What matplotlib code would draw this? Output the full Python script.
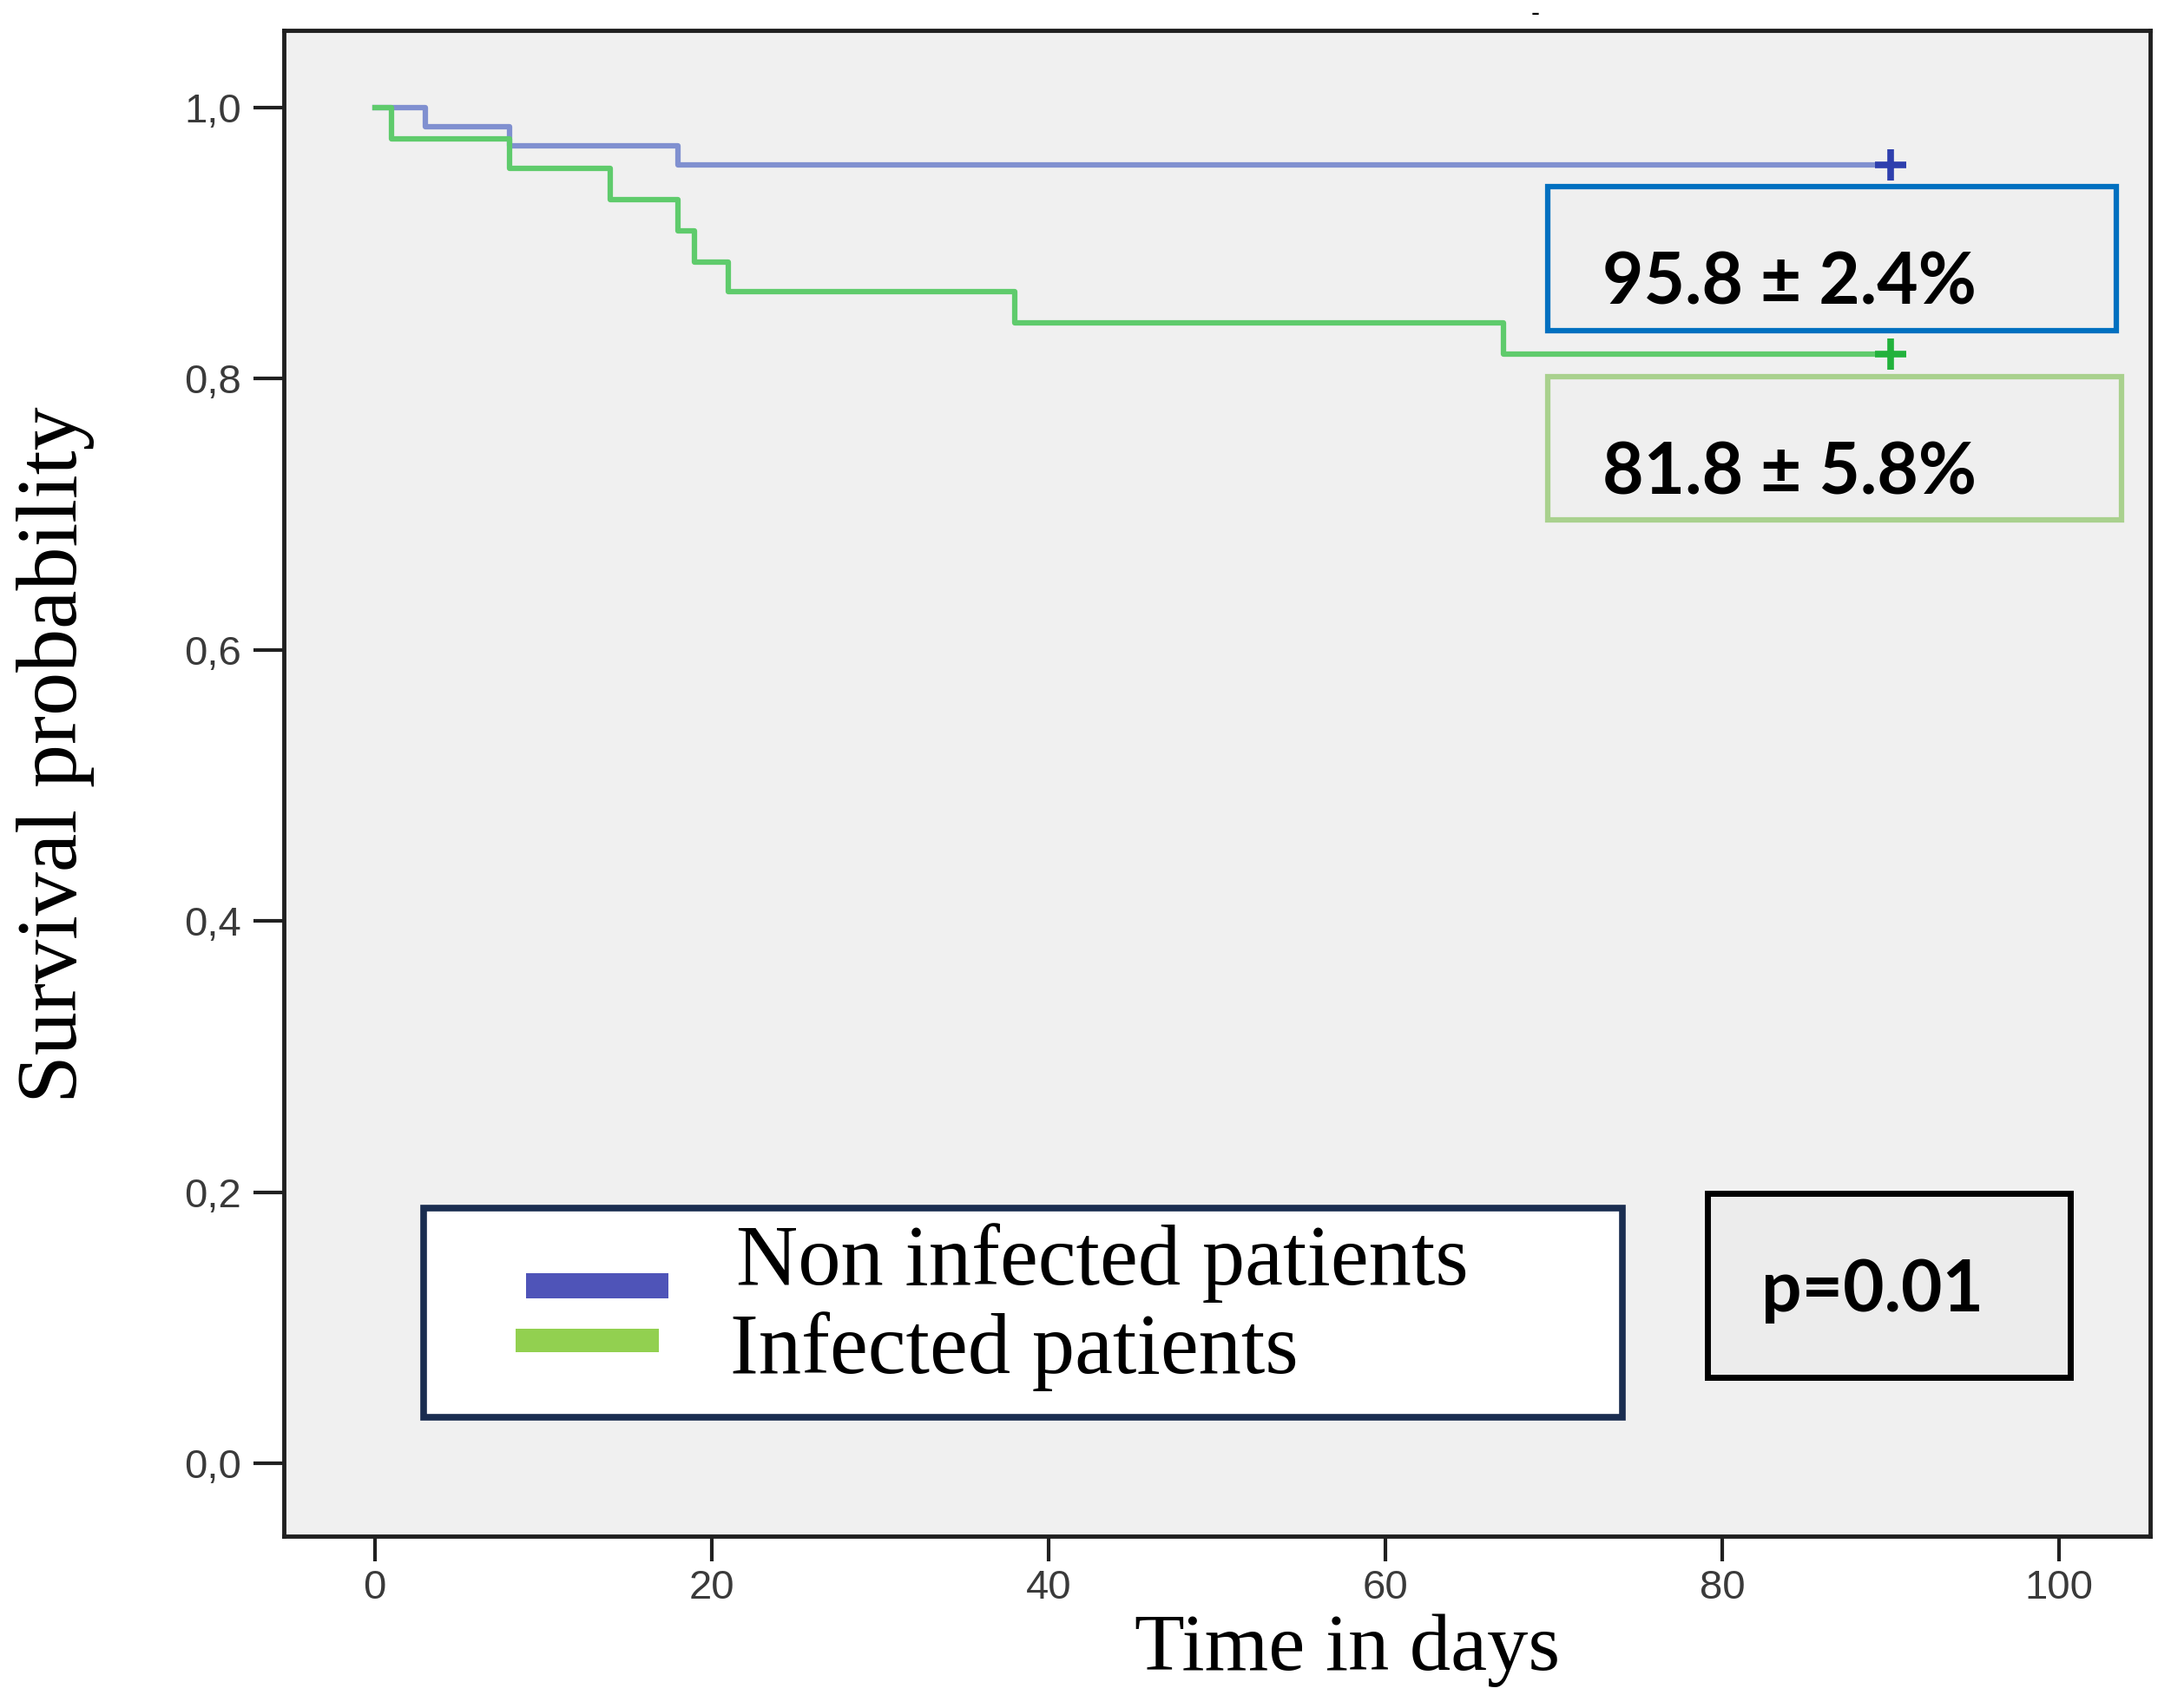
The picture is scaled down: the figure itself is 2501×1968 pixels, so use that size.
import matplotlib
matplotlib.use("Agg")
import matplotlib.pyplot as plt
from matplotlib.patches import Rectangle

# Kaplan-Meier steps
tiempo_no_inf = [0, 1, 3, 8, 18, 90]
surv_no_inf = [1.0, 1.0, 0.986, 0.972, 0.958, 0.958]
tiempo_inf = [0, 1, 8, 14, 18, 19, 21, 38, 67, 90]
surv_inf = [1.0, 0.977, 0.955, 0.932, 0.909, 0.886, 0.864, 0.841, 0.818, 0.818]
censura_t = [90, 90]
censura_s = [0.958, 0.818]

xticks = [0, 20, 40, 60, 80, 100]
yticks = [0.0, 0.2, 0.4, 0.6, 0.8, 1.0]
ytick_labels = ["0,0", "0,2", "0,4", "0,6", "0,8", "1,0"]

grupos = ["Non infected patients", "Infected patients"]
resumen = ["95.8 \u00b1 2.4%", "81.8 \u00b1 5.8%"]
p_valor = "p=0.01"

fig = plt.figure(figsize=(25.01, 19.68), dpi=100)
ax = fig.add_axes([0.1307, 0.1005, 0.8597, 0.8817])
ax.set_facecolor("#f0f0f0")

ax.step(tiempo_no_inf, surv_no_inf, where="post", color="#8090d0", lw=4.5, zorder=3)
ax.step(tiempo_inf, surv_inf, where="post", color="#5fcb6c", lw=4.5, zorder=3)
ax.plot(censura_t[0], censura_s[0], "+", color="#2e3fae", ms=26, mew=5.5, zorder=4)
ax.plot(censura_t[1], censura_s[1], "+", color="#22b23c", ms=26, mew=5.5, zorder=4)

ax.set_xlim(-5.4, 105.4)
ax.set_ylim(-0.054, 1.057)
ax.set_xticks(xticks)
ax.set_xticklabels([str(t) for t in xticks])
ax.set_yticks(yticks)
ax.set_yticklabels(ytick_labels)
ax.tick_params(axis="both", direction="out", width=3, color="#202020",
               labelsize=34, labelcolor="#3a3a3a")
ax.tick_params(axis="x", length=21, pad=6)
ax.tick_params(axis="y", length=25, pad=10)
for lbl in ax.get_xticklabels() + ax.get_yticklabels():
    lbl.set_family(["Liberation Sans", "DejaVu Sans"])
for lado in ax.spines.values():
    lado.set_linewidth(3.5)
    lado.set_color("#202020")

serif = ["Liberation Serif", "DejaVu Serif"]
fig.text(0.6205, 0.0225, "Time in days", family=serif, fontsize=68,
         ha="center", va="baseline")
fig.text(0.0255, 0.558, "Survival probability", family=serif, fontsize=72,
         ha="center", va="center", rotation=90)

negrita = dict(family=["Lato", "DejaVu Sans"], fontweight="bold", fontsize=59, va="baseline")

# cajas de resumen
ax.add_patch(Rectangle((69.65, 0.8355), 33.75, 0.1063, fc="#efefef", ec="#0070c0", lw=4.5, zorder=5))
ax.text(72.9, 0.855, resumen[0], zorder=6, **negrita)
ax.add_patch(Rectangle((69.65, 0.6956), 34.05, 0.1062, fc="#efefef", ec="#a9d18e", lw=4.5, zorder=5))
ax.text(72.9, 0.715, resumen[1], zorder=6, **negrita)

# leyenda
ax.add_patch(Rectangle((2.88, 0.0337), 71.2, 0.1543, fc="white", ec="#1a2d50", lw=5.5, zorder=5))
ax.add_patch(Rectangle((8.96, 0.1216), 8.47, 0.0184, fc="#4f54b8", ec="none", zorder=6))
ax.add_patch(Rectangle((8.39, 0.0817), 8.47, 0.0173, fc="#92d050", ec="none", zorder=6))
ax.text(21.46, 0.1318, grupos[0], family=serif, fontsize=71, va="baseline", zorder=6)
ax.text(21.1, 0.0664, grupos[1], family=serif, fontsize=71, va="baseline", zorder=6)

# p valor
ax.add_patch(Rectangle((79.1, 0.0633), 21.56, 0.1357, fc="#ececec", ec="black", lw=5, zorder=5))
ax.text(82.3, 0.112, p_valor, zorder=6, **negrita)

fig.text(0.707, 0.992, "-", fontsize=20, ha="center", va="center")

fig.savefig("out.png", dpi=100)
